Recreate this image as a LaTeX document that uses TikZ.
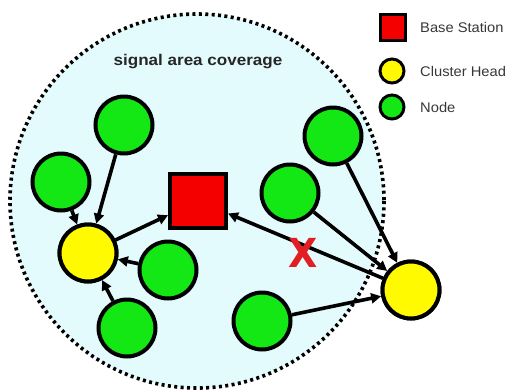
\documentclass[tikz,border=0pt]{standalone}
\usepackage{fontspec}
\setmainfont{Liberation Sans}
\newfontfamily\xmarkfont{DejaVu Sans}
\usetikzlibrary{arrows.meta}
\definecolor{areafill}{RGB}{228,251,253}
\definecolor{nodegreen}{RGB}{20,232,20}
\definecolor{chyellow}{RGB}{255,250,0}
\definecolor{bsred}{RGB}{245,0,0}
\definecolor{xred}{RGB}{225,30,35}
\definecolor{legtext}{RGB}{55,55,55}
\tikzset{
  sensor/.style={circle, draw=black, line width=4pt, fill=nodegreen, minimum size=57pt, inner sep=0pt},
  head/.style={circle, draw=black, line width=4pt, fill=chyellow, minimum size=57pt, inner sep=0pt},
  basest/.style={rectangle, draw=black, line width=4pt, fill=bsred, minimum width=56pt, minimum height=54pt, inner sep=0pt},
  legsensor/.style={circle, draw=black, line width=3pt, fill=nodegreen, minimum size=24pt, inner sep=0pt},
  leghead/.style={circle, draw=black, line width=3pt, fill=chyellow, minimum size=24pt, inner sep=0pt},
  legbase/.style={rectangle, draw=black, line width=3pt, fill=bsred, minimum width=25pt, minimum height=26pt, inner sep=0pt},
  legtxt/.style={anchor=west, text=legtext, font=\fontsize{14}{15}\selectfont, xscale=1.05, inner sep=0pt},
  link/.style={line width=3.6pt, -{Triangle[length=10pt,width=10pt]}},
}
\begin{document}
\begin{tikzpicture}[x=1pt,y=-1pt]
\useasboundingbox (0,0) rectangle (508,389);
% coverage area
\coordinate (cc) at (197,201);
\fill[areafill] (cc) circle (187);
\draw[line width=3.6pt, dash pattern=on 3pt off 3.4pt] (cc) circle (187);
\node[font=\bfseries\fontsize{15.5}{17}\selectfont, text=black!85, xscale=1.1] (title) at (198,62) {signal area coverage};
% nodes
\node[basest] (bs) at (198,201) {};
\node[head] (y1) at (88,253) {};
\node[head] (y2) at (411,290) {};
\node[sensor] (g1) at (124,125) {};
\node[sensor] (g2) at (61,182) {};
\node[sensor] (g3) at (168,270) {};
\node[sensor] (g4) at (127,328) {};
\node[sensor] (g5) at (290,193) {};
\node[sensor] (g6) at (333,136) {};
\node[sensor] (g7) at (262,321) {};
% connectors
\draw[link] (g1) -- (y1);
\draw[link] (g2) -- (y1);
\draw[link] (g3) -- (y1);
\draw[link] (g4) -- (y1);
\draw[link] (y1) -- (bs);
\draw[link] (g5) -- (y2);
\draw[link] (g6) -- (y2);
\draw[link] (g7) -- (y2);
\draw[link] (y2) -- (bs);
% redraw nodes on top
\node[basest] at (bs) {};
\node[head] at (y1) {};
\node[head] at (y2) {};
\node[font=\xmarkfont\bfseries\fontsize{40}{40}\selectfont, text=xred, inner sep=0pt, xscale=0.95] (xmark) at (303,253) {X};
% legend
\node[legbase] (lb) at (393,27) {};
\node[leghead] (lh) at (392,71) {};
\node[legsensor] (ln) at (392,107) {};
\node[legtxt] (lbt) at (420,27) {Base Station};
\node[legtxt] (lht) at (420,71) {Cluster Head};
\node[legtxt] (lnt) at (420,107) {Node};
\end{tikzpicture}
\end{document}
